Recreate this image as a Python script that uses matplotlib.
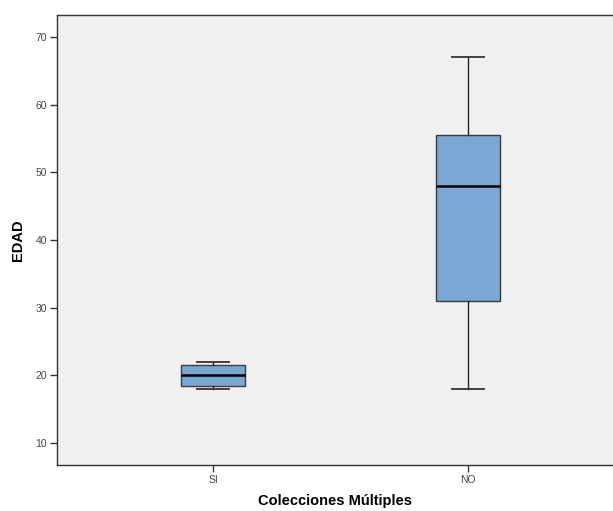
import matplotlib
matplotlib.use("Agg")
import matplotlib.pyplot as plt

plt.rcParams['font.family'] = ['Liberation Sans', 'DejaVu Sans']

# Boxplot summary values
categorias = ['SI', 'NO']
minimo = [18, 18]
q1 = [18.5, 31]
mediana = [20, 48]
q3 = [21.5, 55.5]
maximo = [22, 67]
yticks = [10, 20, 30, 40, 50, 60, 70]

stats = []
for i, c in enumerate(categorias):
    stats.append({'label': c, 'whislo': minimo[i], 'q1': q1[i], 'med': mediana[i],
                  'q3': q3[i], 'whishi': maximo[i], 'fliers': []})

fig = plt.figure(figsize=(6.13, 5.11), dpi=100)
ax = fig.add_axes([0.093, 0.09, 0.907, 0.8806])
ax.set_facecolor('#f0f0f0')

ax.bxp(stats, positions=[1, 2], widths=0.25, patch_artist=True,
       boxprops=dict(facecolor='#7ba7d4', edgecolor='#3c3c3c', linewidth=1.0),
       medianprops=dict(color='black', linewidth=1.8),
       whiskerprops=dict(color='#222222', linewidth=1.0),
       capprops=dict(color='#333333', linewidth=1.3),
       capwidths=0.125)

ax.set_xlim(0.388, 2.569)
ax.set_ylim(6.75, 73.25)
ax.set_yticks(yticks)
ax.set_xticks([1, 2])
ax.set_xticklabels(categorias)

for s in ['left', 'bottom', 'top']:
    ax.spines[s].set_color('#333333')
    ax.spines[s].set_linewidth(1.0)
ax.spines['right'].set_visible(False)

ax.tick_params(axis='both', direction='out', length=5, width=1.0, color='#333333',
               labelsize=7.5, labelcolor='#444444', pad=2)

ax.set_ylabel('EDAD', fontsize=10.5, fontweight='bold', labelpad=8)
ax.set_xlabel('Colecciones Múltiples', fontsize=10.5, fontweight='bold', labelpad=7)

fig.savefig('out.png', dpi=100)
